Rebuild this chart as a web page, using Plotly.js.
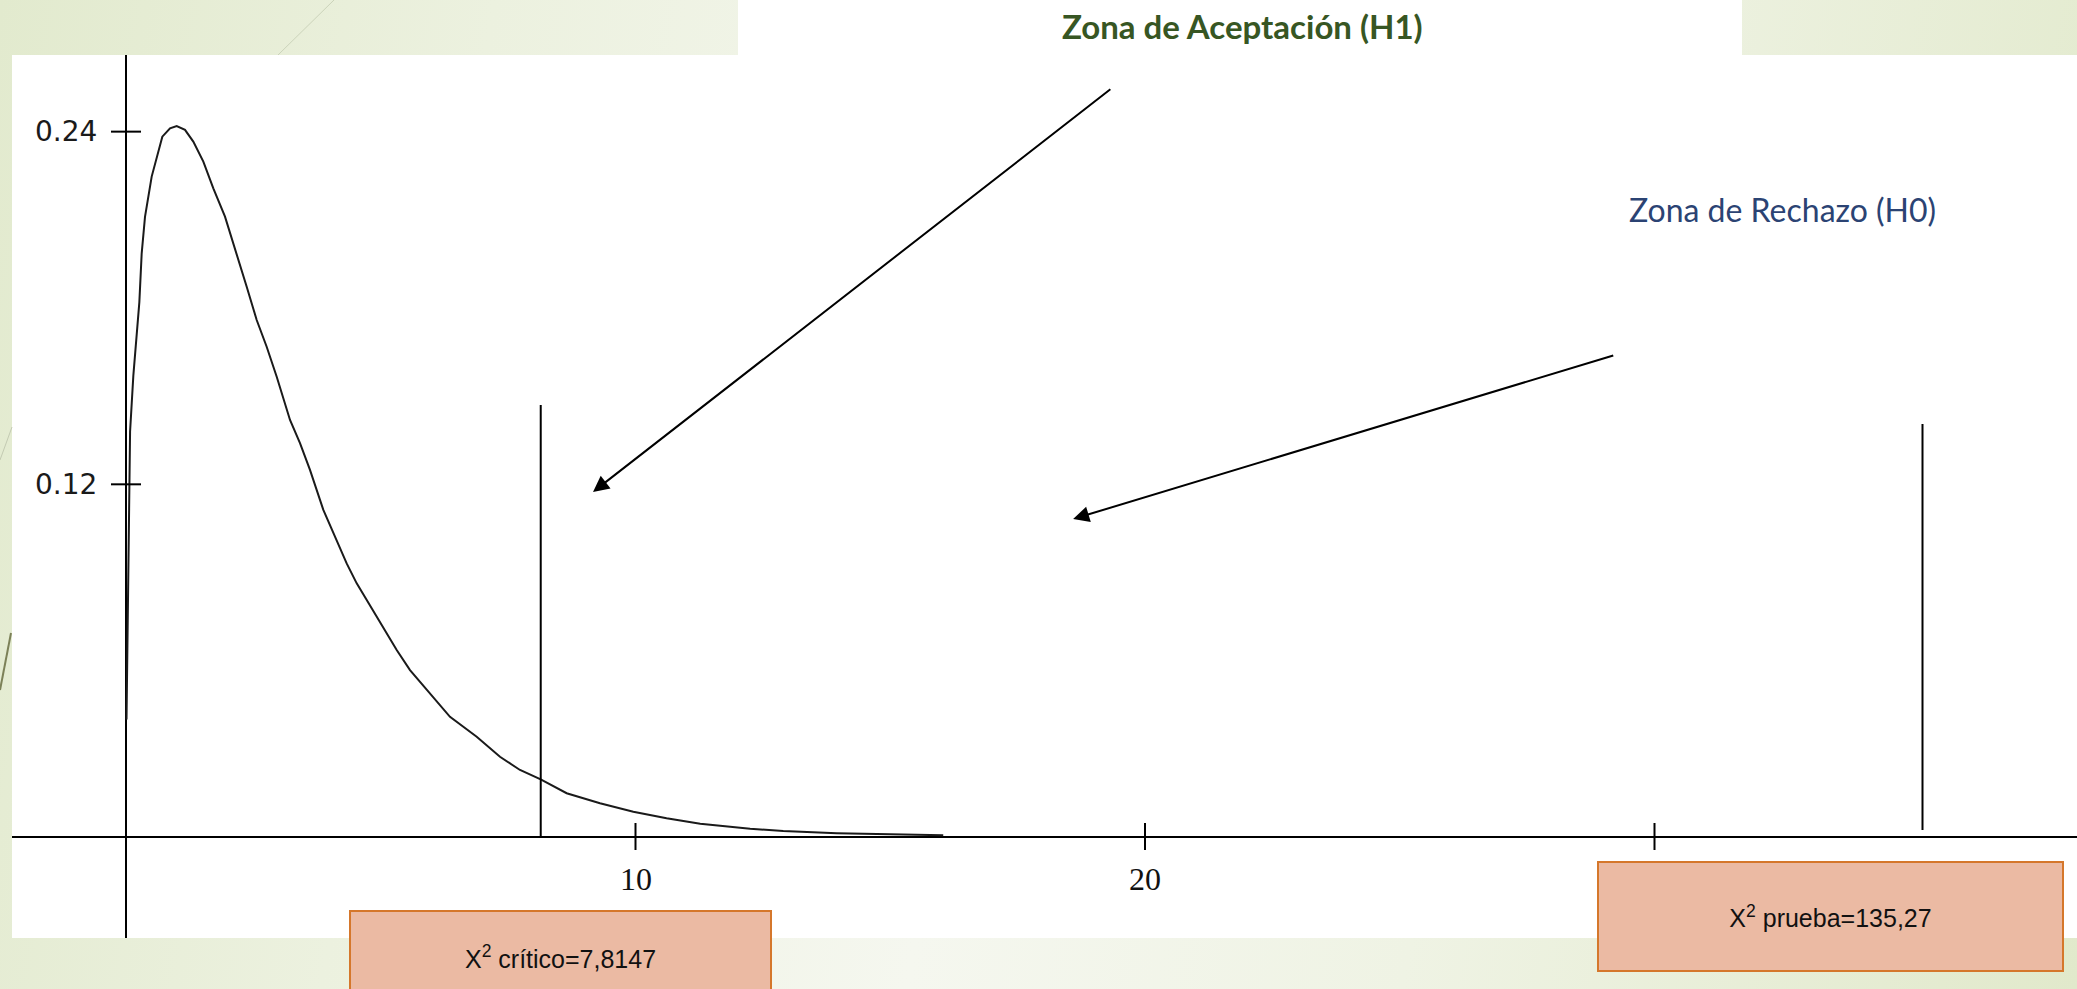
<!DOCTYPE html>
<html>
<head>
<meta charset="utf-8">
<script src="https://cdn.plot.ly/plotly-3.0.1.min.js"></script>
<style>
html,body{margin:0;padding:0;}
body{width:2077px;height:989px;overflow:hidden;
background:linear-gradient(100deg,#E2EACE 0%,#ECF1DF 22%,#F5F7EF 48%,#EFF3E4 70%,#E1E9CB 100%);}
#chart{width:2077px;height:989px;}
</style>
</head>
<body>
<div id="chart"></div>
<script>
// ---- data ----
const chiX = [0.01,0.03,0.05,0.065,0.08,0.144,0.21,0.262,0.308,0.373,0.504,0.569,0.713,0.864,0.995,1.158,1.321,1.518,1.714,1.943,2.173,2.369,2.565,2.761,2.958,3.219,3.415,3.611,3.873,4.102,4.331,4.528,4.724,4.985,5.313,5.574,5.967,6.359,6.883,7.34,7.733,8.139,8.649,9.303,9.957,10.285,10.61,11.27,12.25,12.9,13.95,15.0,16.04];
const chiY = [0.040,0.070,0.095,0.115,0.138,0.157,0.170,0.182,0.1986,0.211,0.2247,0.2292,0.2383,0.2411,0.2419,0.2406,0.2366,0.2298,0.2207,0.2111,0.1986,0.1872,0.1759,0.1668,0.1566,0.1419,0.134,0.1249,0.1113,0.1022,0.0931,0.0863,0.0806,0.0727,0.0636,0.0568,0.0489,0.0409,0.0341,0.0273,0.0228,0.0196,0.0149,0.0115,0.0086,0.0075,0.0064,0.0045,0.0028,0.0020,0.0013,0.0009,0.0006];

const vlineX      = [8.14, 35.26];
const vlineBottom = [0, 0.0024];
const vlineTop    = [0.147, 0.1405];

const xTickVals = [10, 20, 30];
const xTickText = ['10', '20', '30'];
const yTickVals = [0.12, 0.24];
const yTickText = ['0.12', '0.24'];

const titleText   = '<b>Zona de Aceptación (H1)</b>';
const rejectText  = 'Zona de Rechazo (H0)';
const critText    = 'X<sup>2</sup> crítico=7,8147';
const testText    = 'X<sup>2</sup> prueba=135,27';

// ---- layout geometry ----
const FW = 2077, FH = 989;
const L = 12, T = 55, B = 51, R = 0;
const W = FW - L - R, H = FH - T - B;
const px = p => (p - L) / W;
const py = p => (T + H - p) / H;

const traces = [{
  type: 'scatter', mode: 'lines', x: chiX, y: chiY,
  line: {color: '#1a1a1a', width: 2}, hoverinfo: 'skip'
}];
vlineX.forEach((v, i) => {
  traces.push({
    type: 'scatter', mode: 'lines',
    x: [v, v], y: [vlineBottom[i], vlineTop[i]],
    line: {color: '#000', width: 2}, hoverinfo: 'skip'
  });
});

const shapes = [];
// tick marks crossing the axes
xTickVals.forEach(v => shapes.push({
  type: 'line', xref: 'x', yref: 'y', ysizemode: 'pixel', yanchor: 0,
  x0: v, x1: v, y0: -13, y1: 14, line: {color: '#000', width: 2}
}));
yTickVals.forEach(v => shapes.push({
  type: 'line', xref: 'x', yref: 'y', xsizemode: 'pixel', xanchor: 0,
  x0: -15, x1: 15, y0: v, y1: v, line: {color: '#000', width: 2}
}));
// white title banner
shapes.push({type: 'rect', xref: 'paper', yref: 'paper', layer: 'below',
  x0: px(738), x1: px(1742), y0: py(56), y1: py(-2),
  fillcolor: '#ffffff', line: {width: 0}});
// decorative slide lines
shapes.push({type: 'line', xref: 'paper', yref: 'paper',
  x0: px(278), y0: py(55), x1: px(334), y1: py(0), line: {color: '#CBD3BA', width: 1}});
shapes.push({type: 'line', xref: 'paper', yref: 'paper',
  x0: px(0), y0: py(460), x1: px(12), y1: py(427), line: {color: '#C3CAB2', width: 1}});
shapes.push({type: 'line', xref: 'paper', yref: 'paper',
  x0: px(0), y0: py(690), x1: px(11), y1: py(633), line: {color: '#7C8158', width: 2}});

const annotations = [];
xTickVals.forEach((v, i) => annotations.push({
  xref: 'x', yref: 'y', x: v, y: 0, yshift: -42, showarrow: false,
  xanchor: 'center', yanchor: 'middle', text: xTickText[i],
  font: {family: 'Liberation Serif, serif', size: 32, color: '#111'}
}));
yTickVals.forEach((v, i) => annotations.push({
  xref: 'x', yref: 'y', x: 0, y: v, xshift: -27, showarrow: false,
  xanchor: 'right', yanchor: 'middle', text: yTickText[i],
  font: {family: 'DejaVu Sans, sans-serif', size: 28, color: '#1a1a1a'}
}));
// arrows
annotations.push({xref: 'x', yref: 'y', axref: 'x', ayref: 'y',
  x: 9.166, y: 0.1174, ax: 19.35, ay: 0.2548, text: '', showarrow: true,
  arrowhead: 2, arrowsize: 1.6, arrowwidth: 2, arrowcolor: '#000', standoff: 0});
annotations.push({xref: 'x', yref: 'y', axref: 'x', ayref: 'y',
  x: 18.59, y: 0.1082, ax: 29.22, ay: 0.164, text: '', showarrow: true,
  arrowhead: 2, arrowsize: 1.6, arrowwidth: 2, arrowcolor: '#000', standoff: 0});
// texts
annotations.push({xref: 'paper', yref: 'paper', x: px(1242), y: py(26),
  xanchor: 'center', yanchor: 'middle', showarrow: false, text: titleText,
  font: {family: 'Lato, sans-serif', size: 33, color: '#375623'}});
annotations.push({xref: 'paper', yref: 'paper', x: px(1782), y: py(209),
  xanchor: 'center', yanchor: 'middle', showarrow: false, text: rejectText,
  font: {family: 'Lato, sans-serif', size: 32, color: '#2B4373'}});
// boxes
annotations.push({xref: 'paper', yref: 'paper', x: px(560), y: py(957),
  xanchor: 'center', yanchor: 'middle', showarrow: false, text: critText,
  width: 419, height: 90, borderpad: 0, borderwidth: 2,
  bgcolor: '#EBBAA3', bordercolor: '#D5772B', valign: 'middle', align: 'center',
  font: {family: 'Liberation Sans, Arial, sans-serif', size: 25, color: '#111'}});
annotations.push({xref: 'paper', yref: 'paper', x: px(1830), y: py(916.5),
  xanchor: 'center', yanchor: 'middle', showarrow: false, text: testText,
  width: 463, height: 107, borderpad: 0, borderwidth: 2,
  bgcolor: '#EBBAA3', bordercolor: '#D5772B', valign: 'middle', align: 'center',
  font: {family: 'Liberation Sans, Arial, sans-serif', size: 25, color: '#111'}});

const layout = {
  width: FW, height: FH,
  margin: {l: L, r: R, t: T, b: B, pad: 0},
  paper_bgcolor: 'rgba(0,0,0,0)', plot_bgcolor: '#ffffff',
  showlegend: false,
  xaxis: {range: [(L - 126) / 50.95, (FW - 126) / 50.95], showgrid: false,
    zeroline: true, zerolinecolor: '#000', zerolinewidth: 2,
    showticklabels: false, ticks: '', showline: false, fixedrange: true},
  yaxis: {range: [-(T + H - 837) / 2939, (837 - T) / 2939], showgrid: false,
    zeroline: true, zerolinecolor: '#000', zerolinewidth: 2,
    showticklabels: false, ticks: '', showline: false, fixedrange: true},
  shapes: shapes,
  annotations: annotations
};

Plotly.newPlot('chart', traces, layout, {displayModeBar: false, staticPlot: true});
</script>
</body>
</html>
